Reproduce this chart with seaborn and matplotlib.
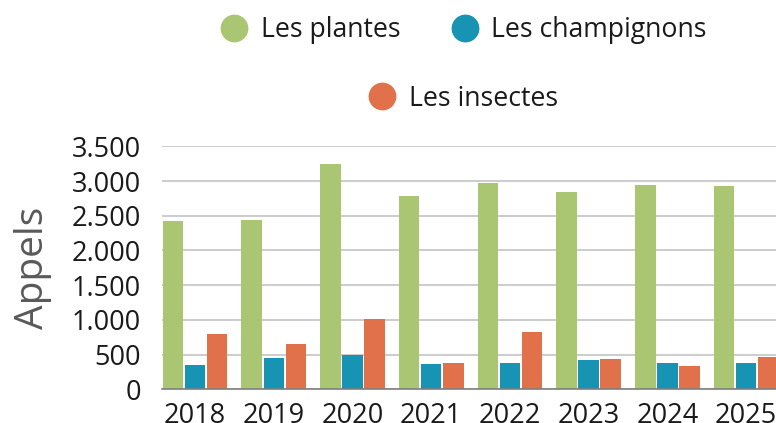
import matplotlib
matplotlib.use("Agg")
import matplotlib.pyplot as plt
from matplotlib.lines import Line2D
from matplotlib.ticker import FuncFormatter
import seaborn as sns
import pandas as pd

years = ["2018", "2019", "2020", "2021", "2022", "2023", "2024", "2025"]
plantes = [2430, 2440, 3245, 2785, 2975, 2840, 2940, 2930]
champignons = [355, 455, 495, 365, 380, 420, 380, 375]
insectes = [800, 650, 1010, 375, 820, 430, 335, 460]
series = ["Les plantes", "Les champignons", "Les insectes"]
colors = ["#ABC673", "#1793B3", "#E0714A"]

df = pd.DataFrame({
    "annee": years * 3,
    "appels": plantes + champignons + insectes,
    "serie": [s for s in series for _ in years],
})

sns.set_theme(style="white")
plt.rcParams["font.family"] = ["Open Sans", "DejaVu Sans"]

fig = plt.figure(figsize=(7.76, 4.23), dpi=100)
ax = fig.add_axes([162 / 776, (423 - 389.3) / 423, 1 - 162 / 776, (389.3 - 146.3) / 423])

sns.barplot(data=df, x="annee", y="appels", hue="serie", palette=colors,
            width=0.84, gap=0.07, ax=ax, legend=False, saturation=1, linewidth=0)

ax.set_ylim(0, 3500)
ax.set_xlim(-0.42, 7.38)
ax.set_yticks(range(0, 3501, 500))
ax.yaxis.set_major_formatter(FuncFormatter(lambda v, p: f"{int(v):,}".replace(",", ".")))
ax.grid(axis="y", color="#C8C8C8", linewidth=1.3)
ax.set_axisbelow(True)
for s in ["top", "right", "left"]:
    ax.spines[s].set_visible(False)
ax.spines["bottom"].set_color("#7F7F7F")
ax.spines["bottom"].set_linewidth(1.2)
ax.tick_params(axis="y", length=0, pad=15, labelsize=19.5, labelcolor="#1A1A1A")
ax.tick_params(axis="x", length=0, pad=9, labelsize=19.5, labelcolor="#1A1A1A")
ax.set_xlabel("")
ax.set_ylabel("Appels", fontsize=28, color="#595959", labelpad=14)

def handle(c):
    return Line2D([], [], marker="o", linestyle="", markersize=19,
                  markerfacecolor=c, markeredgecolor=c)

leg_kw = dict(frameon=False, fontsize=19.2, handlelength=1.0, handletextpad=0.5,
              columnspacing=1.9, labelcolor="#1A1A1A", loc="center")
fig.legend([handle(colors[0]), handle(colors[1])], series[:2], ncol=2,
           bbox_to_anchor=(0.598, 0.928), **leg_kw)
fig.legend([handle(colors[2])], series[2:], ncol=1,
           bbox_to_anchor=(0.597, 0.767), **leg_kw)

fig.savefig("out.png", dpi=100)
